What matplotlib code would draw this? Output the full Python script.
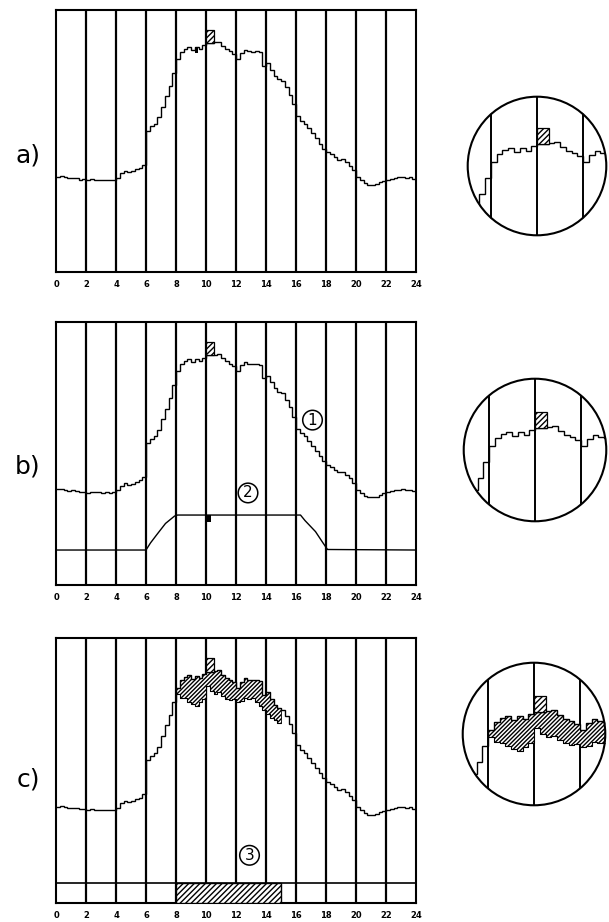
import matplotlib.pyplot as plt
from matplotlib.patches import Circle
import numpy as np

# load curve, quarter-hour steps (fraction of panel height)
load = [0.364, 0.366, 0.362, 0.358, 0.360, 0.357, 0.353, 0.355,
        0.351, 0.354, 0.352, 0.352, 0.350, 0.352, 0.350, 0.352,
        0.360, 0.378, 0.386, 0.382, 0.385, 0.393, 0.398, 0.410,
        0.540, 0.556, 0.566, 0.590, 0.630, 0.670, 0.710, 0.760,
        0.812, 0.840, 0.852, 0.860, 0.847, 0.858, 0.850, 0.865,
        0.873, 0.873, 0.876, 0.879, 0.862, 0.850, 0.842, 0.833,
        0.812, 0.835, 0.848, 0.842, 0.840, 0.842, 0.838, 0.786,
        0.796, 0.770, 0.748, 0.735, 0.730, 0.705, 0.675, 0.640,
        0.595, 0.578, 0.565, 0.548, 0.530, 0.510, 0.490, 0.470,
        0.458, 0.450, 0.438, 0.428, 0.430, 0.420, 0.405, 0.388,
        0.362, 0.350, 0.340, 0.333, 0.333, 0.336, 0.342, 0.348,
        0.352, 0.356, 0.360, 0.362, 0.364, 0.360, 0.362, 0.356]

# peak spike (hatched)
spike_start, spike_end, spike_top = 10.0, 10.5, 0.924

# lower bound of the band in c), from 8 h
band_start = 8.0
band_low = [0.790, 0.775, 0.772, 0.760, 0.752, 0.745, 0.758, 0.770,
            0.820, 0.800, 0.790, 0.795, 0.780, 0.770, 0.765, 0.768,
            0.758, 0.762, 0.775, 0.770, 0.772, 0.760, 0.742, 0.730,
            0.715, 0.700, 0.690, 0.680]

# curve 2 in b)
c2_h = [0, 6, 6.3, 6.7, 7.3, 7.9, 8.1, 16.3, 16.6, 17.3, 17.8, 18.1, 24]
c2_v = [0.133, 0.133, 0.16, 0.19, 0.234, 0.262, 0.266, 0.266, 0.245, 0.203, 0.16, 0.135, 0.133]

# block in c)
block_start, block_end, block_top = 8.0, 15.0, 0.075

hours = np.arange(0, 25, 2)
edges = np.arange(len(load) + 1) / 4.0
load = np.array(load)

W, H = 609, 922
fig = plt.figure(figsize=(W / 100, H / 100), dpi=100)


def px_axes(l, t, w, h):
    return fig.add_axes([l / W, 1 - (t + h) / H, w / W, h / H])


def draw_base(ax, xlim, ylim, lw=1.6):
    ax.set_xlim(*xlim)
    ax.set_ylim(*ylim)
    for hh in hours[1:-1]:
        ax.axvline(hh, color='black', lw=lw, zorder=1)
    ax.stairs(load, edges, color='black', lw=1.0, baseline=None, zorder=3)
    base = load[int(spike_start * 4)]
    ax.bar(spike_start, spike_top - base, bottom=base,
           width=spike_end - spike_start, align='edge', fc='white', ec='black',
           hatch='//////', lw=0.9, zorder=3)


def style_main(ax):
    for s in ax.spines.values():
        s.set_linewidth(1.5)
    ax.set_xticks(hours)
    ax.set_xticklabels([str(h) for h in hours], fontsize=6, fontweight='bold')
    ax.tick_params(length=0, pad=6)
    ax.set_yticks([])


def band(ax):
    i0 = int(band_start * 4)
    low = np.array(band_low)
    up = load[i0:i0 + len(low)].copy()
    k = int((spike_start - band_start) * 4)
    up[k:k + 2] = spike_top
    ax.fill_between(edges[i0:i0 + len(low) + 1], np.append(low, low[-1]),
                    np.append(up, up[-1]), step='post', fc='white', ec='black',
                    hatch='////////', lw=0.6, zorder=2)
    ax.stairs(low, edges[i0:i0 + len(low) + 1], color='black', lw=0.8,
              baseline=None, zorder=3)


panels = [(10, 262), (322, 263), (638, 265)]
axs = [px_axes(56, t, 360, h) for t, h in panels]
for ax in axs:
    draw_base(ax, (0, 24), (0, 1))
    style_main(ax)

# a) extras
axs[0].bar(9.25, 0.022, bottom=0.836, width=0.2, align='edge', color='black', zorder=3)

# b) extras
axs[1].plot(c2_h, c2_v, color='black', lw=1.0, zorder=3)
axs[1].bar(10.0, 0.026, bottom=0.240, width=0.3, align='edge', color='black', zorder=3)
circ = dict(boxstyle='circle,pad=0.15', fc='white', ec='black', lw=1.1)
axs[1].text(17.1, 0.627, '1', ha='center', va='center', fontsize=11, bbox=circ, zorder=5)
axs[1].text(12.8, 0.35, '2', ha='center', va='center', fontsize=11, bbox=circ, zorder=5)

# c) extras
band(axs[2])
axs[2].axhline(block_top, color='black', lw=1.2, zorder=2)
axs[2].bar(block_start, block_top, width=block_end - block_start, align='edge',
           fc='white', ec='black', hatch='//////', lw=1.0, zorder=4)
axs[2].text(12.9, 0.18, '3', ha='center', va='center', fontsize=11, bbox=circ, zorder=5)

for lab, y in zip(['a)', 'b)', 'c)'], [155, 466, 779]):
    fig.text(28 / W, 1 - y / H, lab, ha='center', va='center', fontsize=18)

# circular insets
insets = [(537, 166, 70), (535, 450, 72), (534, 734, 72)]
for i, (cx, cy, r) in enumerate(insets):
    ins = px_axes(cx - r, cy - r, 2 * r, 2 * r)
    draw_base(ins, (10 - r / 23, 10 + r / 23), (0.80 - r / 306, 0.80 + r / 306), lw=1.4)
    if i == 2:
        band(ins)
    clip = Circle((0.5, 0.5), 0.5, transform=ins.transAxes)
    for art in ins.lines + ins.patches + ins.collections:
        art.set_clip_path(clip)
    ins.add_patch(Circle((0.5, 0.5), 0.495, transform=ins.transAxes, fill=False,
                         ec='black', lw=1.5, zorder=6, clip_on=False))
    ins.axis('off')

fig.savefig('out.png', dpi=100)
